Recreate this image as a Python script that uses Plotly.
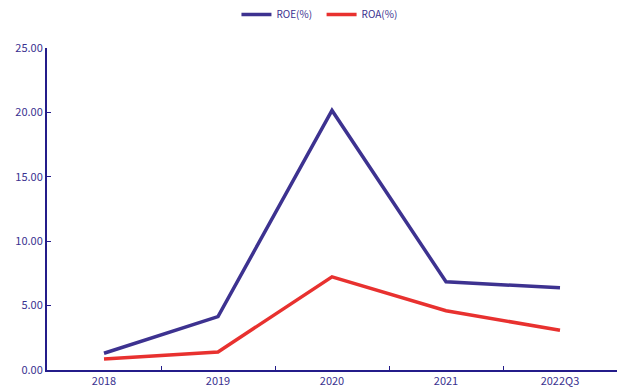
import plotly.graph_objects as go

categories = ["2018", "2019", "2020", "2021", "2022Q3"]
roe = [1.30, 4.15, 20.15, 6.85, 6.38]
roa = [0.85, 1.40, 7.23, 4.60, 3.08]

axis_color = "#241C8A"
text_color = "#3A3190"

fig = go.Figure()
fig.add_trace(go.Scatter(x=categories, y=roe, mode="lines", name="ROE(%)  ",
                         line=dict(color="#3D3290", width=3.5)))
fig.add_trace(go.Scatter(x=categories, y=roa, mode="lines", name="ROA(%)",
                         line=dict(color="#E8312F", width=3.5)))

fig.update_layout(
    width=617, height=392,
    margin=dict(l=47, r=0, t=46, b=22),
    paper_bgcolor="white", plot_bgcolor="white",
    font=dict(family="Noto Sans CJK SC, sans-serif", size=11, color=text_color),
    showlegend=True,
    legend=dict(orientation="h", x=0.478, xanchor="center", y=1.06, yanchor="bottom",
                font=dict(size=10, color=text_color), itemwidth=30),
    xaxis=dict(type="category", range=[-0.5, 4.5], showline=True, linecolor=axis_color,
               linewidth=2, ticks="inside", ticklen=4, tickcolor=axis_color,
               tickson="boundaries", showgrid=False, zeroline=False,
               tickfont=dict(size=11, color=text_color)),
    yaxis=dict(range=[0, 25], dtick=5, tickformat=".2f", showline=True, linecolor=axis_color,
               linewidth=2, ticks="inside", ticklen=4, tickcolor=axis_color,
               showgrid=False, zeroline=False, tickfont=dict(size=11, color=text_color)),
)

fig.write_html("out.html")
